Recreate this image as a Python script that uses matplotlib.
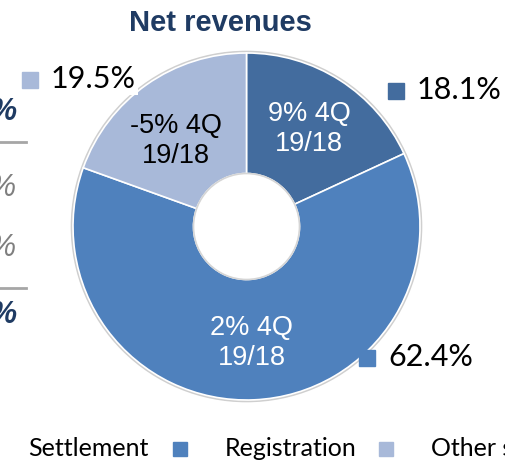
import matplotlib

matplotlib.use("Agg")
import matplotlib.pyplot as plt
import numpy as np
from matplotlib.patches import Circle, Rectangle

W, H = 506, 461

segments = ["Settlement", "Registration", "Other services"]
shares = [18.1, 62.4, 19.5]
growth = ["9% 4Q\n19/18", "2% 4Q\n19/18", "-5% 4Q\n19/18"]
colors = ["#436C9E", "#4F81BD", "#A8B9D9"]
growth_colors = ["white", "white", "black"]

NAVY = "#1F3B63"


def py(y):
    # image rows (top-down) -> axes y (bottom-up)
    return H - y


fig = plt.figure(figsize=(W / 100, H / 100), dpi=100)
ax = fig.add_axes([0, 0, 1, 1])

cx, cy, R, r_in = 246.5, py(226.5), 173.5, 53
ax.add_patch(Circle((cx, cy), R + 1.2, fc="none", ec="#CFCFCF", lw=1.6, zorder=0))
wedges, _ = ax.pie(
    shares,
    colors=colors,
    startangle=90,
    counterclock=False,
    radius=R,
    center=(cx, cy),
    wedgeprops={"width": R - r_in, "edgecolor": "white", "linewidth": 1.2},
)
ax.add_patch(Circle((cx, cy), r_in, fc="none", ec="#D5D5D5", lw=1.2, zorder=3))
ax.set_xlim(0, W)
ax.set_ylim(0, H)
ax.set_aspect("equal")
ax.axis("off")

# growth labels inside the ring
nudge = {0: (0, 0), 1: (0, 0), 2: (-4, -10)}
for i, (w, txt) in enumerate(zip(wedges, growth)):
    ang = np.deg2rad((w.theta1 + w.theta2) / 2)
    rl = 0.67 * R
    dx, dy = nudge[i]
    ax.text(cx + rl * np.cos(ang) + dx, cy + rl * np.sin(ang) + dy, txt,
            ha="center", va="center", fontsize=19.5, color=growth_colors[i],
            family="Liberation Sans", linespacing=1.2)

# share call-outs with square markers
callouts = {0: (388, 91), 2: (22, 80), 1: (359, 358)}
for i, v in enumerate(shares):
    x0, yc = callouts[i]
    ax.add_patch(Rectangle((x0, py(yc) - 8), 16, 16, color=colors[i], zorder=4))
    ax.text(x0 + 29, py(yc) + 1, f"{v:.1f}%", ha="left", va="center", fontsize=22,
            family="Lato", color="black", zorder=5,
            bbox={"fc": "white", "ec": "none", "pad": 1} if i == 2 else None)

ax.text(220.5, py(22.5), "Net revenues", ha="center", va="center", fontsize=21,
        fontweight="bold", family="Liberation Sans", color=NAVY)

# legend (cut at the left edge like the slide)
legend_x = [-24, 173, 379]
ly = py(449)
for i, name in enumerate(segments):
    ax.add_patch(Rectangle((legend_x[i], ly - 7), 14, 14, color=colors[i], zorder=4))
    ax.text(legend_x[i] + 52, ly, name, ha="left", va="center", fontsize=18,
            family="Lato", color="black")

# left table edge from the slide
left_rows = [(112, "bold", NAVY), (188, "normal", "#7F7F7F"),
             (248, "normal", "#7F7F7F"), (315, "bold", NAVY)]
for yy, wt, col in left_rows:
    ax.text(16, py(yy), "%", ha="right", va="center", fontsize=22, fontstyle="italic",
            fontweight=wt, family="Liberation Sans", color=col)
for yy in (142, 288):
    ax.plot([0, 26], [py(yy), py(yy)], color="#A6A6A6", lw=2)

fig.savefig("out.png", dpi=100)
